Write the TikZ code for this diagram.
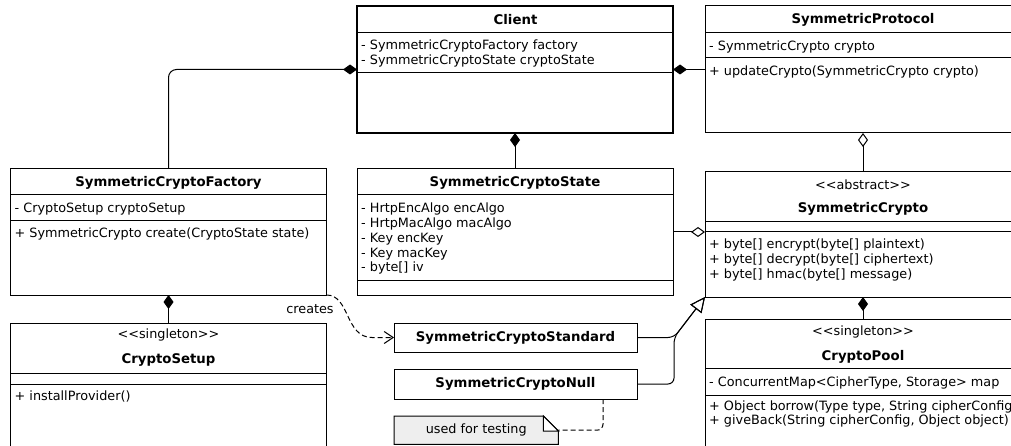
\documentclass[tikz,border=0pt]{standalone}
\usepackage{fontspec}
\setmainfont{DejaVu Sans}[Ligatures=TeXOff]
\usetikzlibrary{arrows.meta,calc}
\definecolor{notegray}{HTML}{EEEEEE}
\begin{document}
\begin{tikzpicture}[x=1pt,y=-1pt,
  font=\fontsize{12.8}{15}\selectfont,
  frame/.style={draw=black, line width=1pt, anchor=north west, inner sep=0pt, outer sep=0pt, minimum width=316pt},
  mainframe/.style={frame, line width=2pt},
  cname/.style={font=\fontsize{13.3}{15}\selectfont\bfseries, inner sep=0pt},
  stereo/.style={inner sep=0pt},
  member/.style={anchor=west, inner sep=0pt, text height=9pt, text depth=2.5pt},
  sep/.style={line width=1pt},
  link/.style={line width=1pt, draw=black},
  comp/.style={link, {Diamond[length=14pt,width=10pt]}-},
  aggr/.style={link, {Diamond[open,length=14pt,width=10pt]}-},
  realize/.style={link, rounded corners=6pt, -{Triangle[open,length=15pt,width=14pt]}},
  dep/.style={link, dash pattern=on 5pt off 3pt},
]
\useasboundingbox (0,0) rectangle (1011,446);
\clip (0,0) rectangle (1011,446);

% ---------- class frames ----------
\node[mainframe, minimum height=127pt] (client) at (357,6) {};
\node[frame, minimum height=127pt] (proto) at (705,6) {};
\node[frame, minimum height=126pt] (factory) at (10.5,169) {};
\node[frame, minimum height=126pt] (state) at (357,169) {};
\node[frame, minimum height=125pt] (crypto) at (705,172) {};
\node[frame, minimum height=140pt] (setup) at (10.5,323) {};
\node[frame, minimum height=140pt] (pool) at (705,319) {};
\node[frame, minimum width=243pt, minimum height=29pt] (std) at (394,323) {};
\node[frame, minimum width=243pt, minimum height=30pt] (null) at (394,369) {};

% ---------- compartment separators ----------
\draw[sep] (357,33) -- (674,33);
\draw[sep] (357,73) -- (674,73);
\draw[sep] (705,33) -- (1021,33);
\draw[sep] (705,58) -- (1021,58);
\draw[sep] (10.5,195) -- (326.5,195);
\draw[sep] (10.5,221) -- (326.5,221);
\draw[sep] (357,195) -- (673,195);
\draw[sep] (357,280) -- (673,280);
\draw[sep] (705,222) -- (1021,222);
\draw[sep] (705,232) -- (1021,232);
\draw[sep] (10.5,373) -- (326.5,373);
\draw[sep] (10.5,384) -- (326.5,384);
\draw[sep] (705,368) -- (1021,368);
\draw[sep] (705,395) -- (1021,395);

% ---------- Client ----------
\node[cname] (clientT) at (515.5,20) {Client};
\node[member] (clientA1) at (361,46) {- SymmetricCryptoFactory factory};
\node[member] (clientA2) at (361,61) {- SymmetricCryptoState cryptoState};

% ---------- SymmetricProtocol ----------
\node[cname] (protoT) at (863,20) {SymmetricProtocol};
\node[member] (protoA1) at (709,47) {- SymmetricCrypto crypto};
\node[member] (protoM1) at (709,72) {+ updateCrypto(SymmetricCrypto crypto)};

% ---------- SymmetricCryptoFactory ----------
\node[cname] (factoryT) at (168.5,183) {SymmetricCryptoFactory};
\node[member] (factoryA1) at (14.5,209) {- CryptoSetup cryptoSetup};
\node[member] (factoryM1) at (14.5,234) {+ SymmetricCrypto create(CryptoState state)};

% ---------- SymmetricCryptoState ----------
\node[cname] (stateT) at (515,183) {SymmetricCryptoState};
\node[member] (stateA1) at (361,209) {- HrtpEncAlgo encAlgo};
\node[member] (stateA2) at (361,224) {- HrtpMacAlgo macAlgo};
\node[member] (stateA3) at (361,239) {- Key encKey};
\node[member] (stateA4) at (361,254) {- Key macKey};
\node[member] (stateA5) at (361,268) {- byte[] iv};

% ---------- SymmetricCrypto ----------
\node[stereo] (cryptoS) at (863,185) {<<abstract>>};
\node[cname] (cryptoT) at (863,209) {SymmetricCrypto};
\node[member] (cryptoM1) at (709,245) {+ byte[] encrypt(byte[] plaintext)};
\node[member] (cryptoM2) at (709,260) {+ byte[] decrypt(byte[] ciphertext)};
\node[member] (cryptoM3) at (709,275) {+ byte[] hmac(byte[] message)};

% ---------- CryptoSetup ----------
\node[stereo] (setupS) at (168.5,335) {<<singleton>>};
\node[cname] (setupT) at (168.5,360) {CryptoSetup};
\node[member] (setupM1) at (14.5,397) {+ installProvider()};

% ---------- CryptoPool ----------
\node[stereo] (poolS) at (863,332) {<<singleton>>};
\node[cname] (poolT) at (863,357) {CryptoPool};
\node[member] (poolA1) at (709,383) {- ConcurrentMap<CipherType, Storage> map};
\node[member] (poolM1) at (709,407) {+ Object borrow(Type type, String cipherConfig)};
\node[member] (poolM2) at (709,421) {+ giveBack(String cipherConfig, Object object)};

% ---------- implementations ----------
\node[cname] (stdT) at (std.center) {SymmetricCryptoStandard};
\node[cname] (nullT) at (null.center) {SymmetricCryptoNull};

% ---------- note ----------
\node[anchor=north west, inner sep=0pt, minimum width=164pt, minimum height=28pt] (note) at (394,416) {};
\filldraw[link, fill=notegray] (note.south west) -- (note.north west)
  -- ([xshift=-15pt]note.north east) -- ([yshift=-15pt]note.north east)
  -- (note.south east) -- cycle;
\filldraw[link, fill=white] ([xshift=-15pt]note.north east)
  |- ([yshift=-15pt]note.north east) -- cycle;
\node[inner sep=0pt] (noteT) at (note.center) {used for testing};

% ---------- associations ----------
\draw[comp, rounded corners=8pt] (client.west) -| (factory.north);
\draw[comp] (client.east) -- (proto.west);
\draw[comp] (client.south) -- (client.south |- state.north);
\draw[aggr] (proto.south) -- (crypto.north);
\draw[link, -{Diamond[open,length=14pt,width=10pt]}] (state.east) -- (state.east -| crypto.west);
\draw[comp] (crypto.south) -- (pool.north);
\draw[comp] (factory.south) -- (setup.north);

% ---------- creates dependency ----------
\draw[dep, -{Straight Barb[length=9pt,width=12pt]}] (factory.south east)
  .. controls (350,295) and (345,337.5) .. (372,337.5) -- (std.west);
\node[inner sep=0pt] (createsL) at (310,309) {creates};

% ---------- realizations ----------
\coordinate (bend) at (674,337.5);
\draw[realize] (std.east) -- (bend) -- (crypto.south west);
\draw[realize] (null.east) -- (null.east -| bend) -- (bend) -- (crypto.south west);

% ---------- note anchor ----------
\draw[dep, rounded corners=6pt] ($(null.south)+(87.5,0)$) |- (note.east);
\end{tikzpicture}
\end{document}
